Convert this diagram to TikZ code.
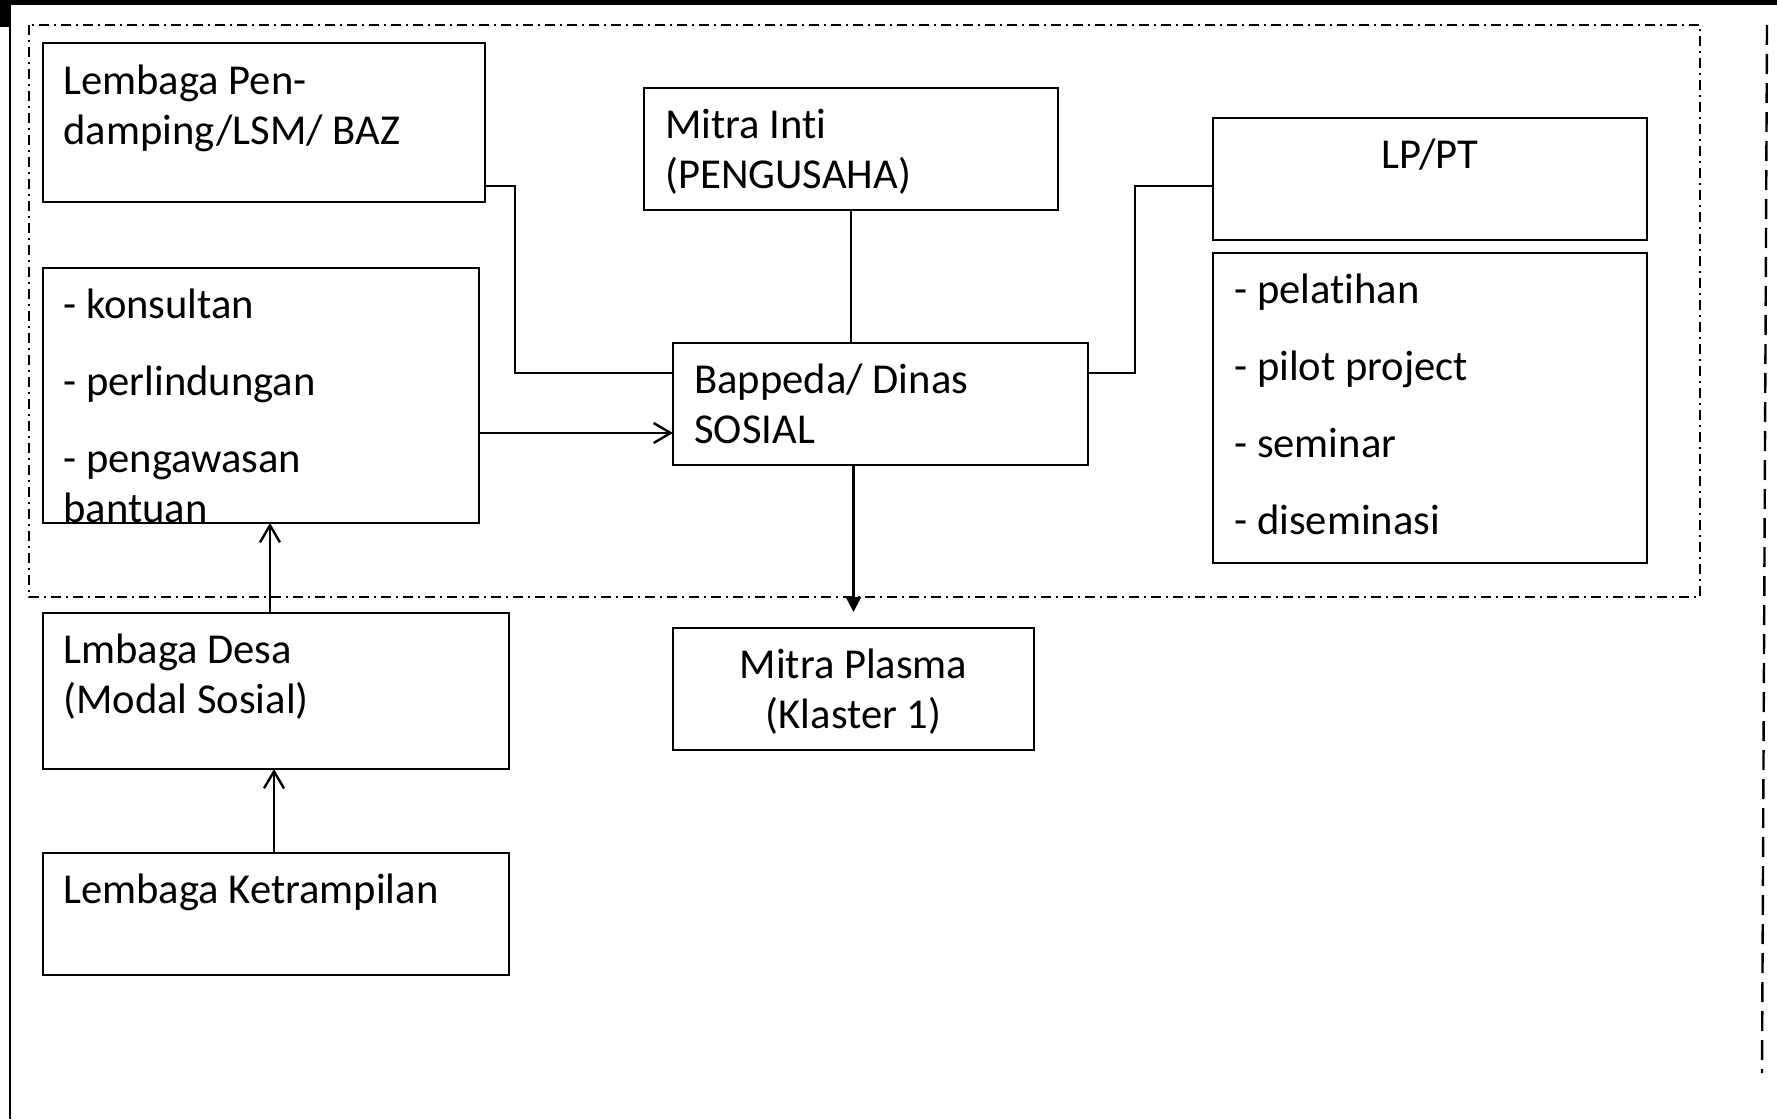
\documentclass[tikz,border=0pt]{standalone}
\usepackage{fontspec}
\setmainfont{Carlito}[Ligatures=NoCommon]
\usetikzlibrary{arrows.meta,fit}
\begin{document}
\begin{tikzpicture}[x=0.5pt,y=-0.5pt,
  box/.style={draw, line width=1.3pt, inner sep=0pt, outer sep=0pt},
  txt/.style={inner sep=0pt, anchor=base west, font=\fontsize{21.3}{25}\selectfont},
  ctxt/.style={inner sep=0pt, anchor=base, font=\fontsize{21.3}{25}\selectfont},
  conn/.style={line width=1.2pt},
  openarrow/.style={conn, -{Straight Barb[length=8.5pt,width=10pt,line width=1.2pt]}},
  fillarrow/.style={conn, -{Triangle[length=7.5pt,width=7.5pt]}},
  frame/.style={line width=1pt, dash pattern=on 5pt off 2.5pt on 1pt off 2.5pt}
]
\useasboundingbox (0,0) rectangle (1777,1119);
\fill[white] (0,0) rectangle (1777,1119);

% page edges
\fill[black] (0,0) rectangle (1777,5);
\fill[black] (0,0) rectangle (9,27);
\draw[line width=1.3pt] (10,0) -- (10,1119);
\draw[line width=1.2pt, dash pattern=on 10pt off 4.5pt] (1767,25) -- (1762,1073);

% dash-dot frame
\draw[frame] (29,25) rectangle (1700,597);

% boxes
\node[box, fit={(43,43) (485,202)}] (lem) {};
\node[box, fit={(43,268) (479,523)}] (kon) {};
\node[box, fit={(644,88) (1058,210)}] (mit) {};
\node[box, fit={(673,343) (1088,465)}] (bap) {};
\node[box, fit={(1213,118) (1647,240)}] (lp) {};
\node[box, fit={(1213,253) (1647,563)}] (lst) {};
\node[box, fit={(43,613) (509,769)}] (desa) {};
\node[box, fit={(43,853) (509,975)}] (ket) {};
\node[box, fit={(673,628) (1034,750)}] (pla) {};

% texts
\node[txt] at ([shift={(20,51)}]lem.north west) {\begin{tabular}[t]{@{}l@{}}Lembaga Pen-\\damping/LSM/ BAZ\end{tabular}};
\node[txt] at ([shift={(20,50)}]kon.north west) {\begin{tabular}[t]{@{}l@{}}- konsultan\\[13.5pt]- perlindungan\\[13.5pt]- pengawasan\\bantuan\end{tabular}};
\node[txt] at ([shift={(21,50)}]mit.north west) {\begin{tabular}[t]{@{}l@{}}Mitra Inti\\(PENGUSAHA)\end{tabular}};
\node[txt] at ([shift={(21,50)}]bap.north west) {\begin{tabular}[t]{@{}l@{}}Bappeda/ Dinas\\SOSIAL\end{tabular}};
\node[ctxt] at ([shift={(0,50)}]lp.north) {LP/PT};
\node[txt] at ([shift={(21,50)}]lst.north west) {\begin{tabular}[t]{@{}l@{}}- pelatihan\\[13.5pt]- pilot project\\[13.5pt]- seminar\\[13.5pt]- diseminasi\end{tabular}};
\node[txt] at ([shift={(20,50)}]desa.north west) {\begin{tabular}[t]{@{}l@{}}Lmbaga Desa\\(Modal Sosial)\end{tabular}};
\node[txt] at ([shift={(20,50)}]ket.north west) {Lembaga Ketrampilan};
\node[ctxt] at ([shift={(0,50)}]pla.north) {\begin{tabular}[t]{@{}c@{}}Mitra Plasma\\(Klaster 1)\end{tabular}};

% connectors
\draw[conn] (lem.east |- 0,186) -| (515,373) -- (bap.west |- 0,373);
\draw[conn] (mit.south) -- (mit.south |- bap.north);
\draw[conn] (bap.east |- 0,373) -| (1135,186) -- (lp.west |- 0,186);
\draw[openarrow] (kon.east |- 0,433) -- (bap.west |- 0,433);
\draw[fillarrow, shorten >=8pt] (bap.south -| pla.north) -- (pla.north);
\draw[openarrow] (desa.north -| 270,0) -- (kon.south -| 270,0);
\draw[openarrow] (ket.north -| 274,0) -- (desa.south -| 274,0);
\end{tikzpicture}
\end{document}
